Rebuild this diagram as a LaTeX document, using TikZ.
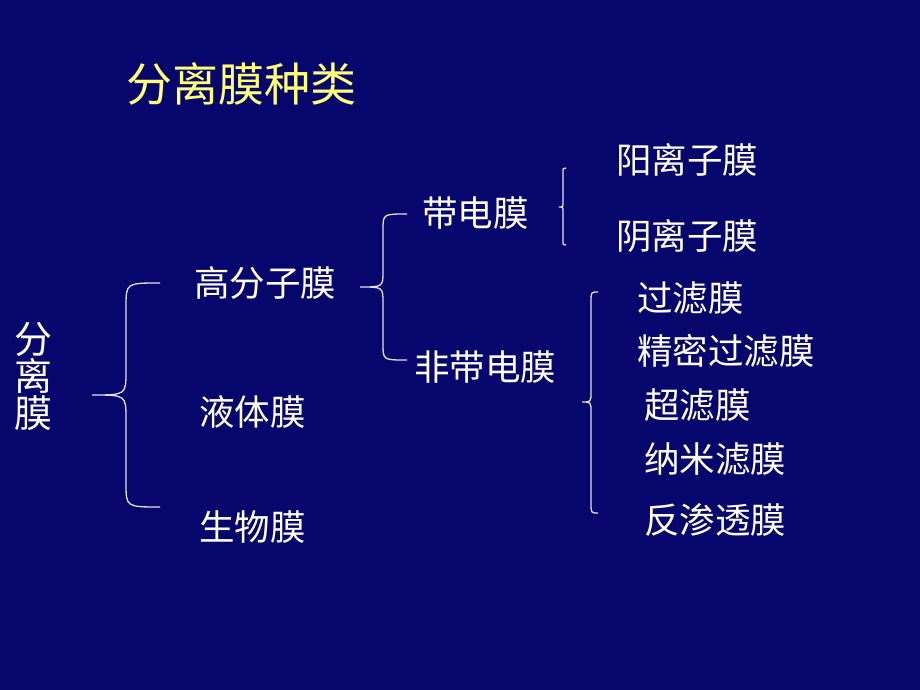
\documentclass[tikz,border=0pt]{standalone}
\usepackage{fontspec}
\newfontfamily\cjk{Noto Sans CJK SC}
\usepackage{tikz}
\usetikzlibrary{positioning, calc}
\definecolor{slidenavy}{RGB}{6, 6, 108}
\definecolor{titleyellow}{RGB}{255, 255, 120}
\definecolor{braceline}{RGB}{225, 225, 240}

% brace: tip x, line x, end x, top y, tip y, bottom y, curve size
\newcommand{\sortbrace}[7]{%
    \draw[bracestroke] (#3,#4) .. controls (#2,#4) .. (#2,{#4+#7}) -- (#2,{#5-#7})
        .. controls (#2,#5) .. (#1,#5) .. controls (#2,#5) .. (#2,{#5+#7})
        -- (#2,{#6-#7}) .. controls (#2,#6) .. (#3,#6);}

\begin{document}
\begin{tikzpicture}[
    x=1pt, y=-1pt,
    kind/.style={anchor=west, inner sep=0pt, text=white, font=\cjk\fontsize{35.5}{37}\selectfont},
    bracestroke/.style={draw=braceline, line width=1.3pt}
]
    \fill[slidenavy] (0,0) rectangle (920,690);
    \useasboundingbox (0,0) rectangle (920,690);

    \node[anchor=west, inner sep=0pt, text=titleyellow, font=\cjk\fontsize{46}{48}\selectfont] (title) at (126,84) {分离膜种类};

    \node[inner sep=0pt, text=white, align=center, font=\cjk\fontsize{38}{37}\selectfont] (root) at (33,376) {分\\离\\膜};

    % first level
    \node[kind] (polymer) at (194,283) {高分子膜};
    \node[kind] (liquid) at (199,412) {液体膜};
    \node[kind] (bio) at (199,527) {生物膜};

    % second level
    \node[kind] (charged) at (422,213) {带电膜};
    \node[kind] (uncharged) at (414,367) {非带电膜};

    % third level
    \node[kind] (cation) at (616,160) {阳离子膜};
    \node[kind] (anion) at (616,236) {阴离子膜};
    \node[kind] (filter) at (637,298) {过滤膜};
    \node[kind] (micro) at (637,351) {精密过滤膜};
    \node[kind] (ultra) at (644,405) {超滤膜};
    \node[kind] (nano) at (644,459) {纳米滤膜};
    \node[kind] (ro) at (644,520) {反渗透膜};

    % braces
    \sortbrace{92}{126}{160}{283}{395}{507}{24}
    \sortbrace{360}{383}{407}{214}{287}{360}{16}
    \sortbrace{559}{563}{566}{168}{207}{245}{5}
    \sortbrace{582}{591}{598}{292}{402}{513}{10}
\end{tikzpicture}
\end{document}
